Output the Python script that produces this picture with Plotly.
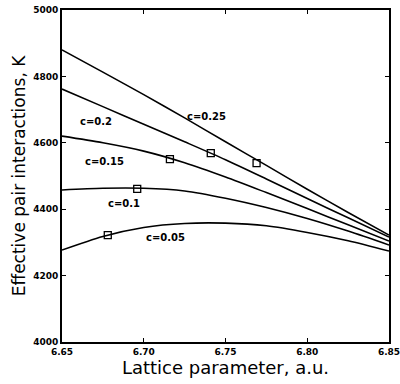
import plotly.graph_objects as go

# Lattice parameter grid (a.u.)
lattice = [6.65, 6.675, 6.70, 6.725, 6.75, 6.775, 6.80, 6.825, 6.85]

# Effective pair interaction (K) for each concentration
v_c025 = [4880, 4813, 4745, 4675, 4603, 4532, 4460, 4390, 4322]
v_c020 = [4762, 4709, 4656, 4603, 4549, 4491, 4432, 4374, 4316]
v_c015 = [4620, 4600, 4575, 4540, 4497, 4450, 4402, 4353, 4304]
v_c010 = [4458, 4463, 4463, 4455, 4433, 4405, 4372, 4334, 4292]
v_c005 = [4277, 4318, 4345, 4357, 4358, 4350, 4330, 4305, 4274]

# Marked points on each curve
mark_x = [6.769, 6.741, 6.716, 6.696, 6.678]
mark_y = [4539, 4569, 4551, 4461, 4322]

# Curve labels and their positions
label_text = ["c=0.25", "c=0.2", "c=0.15", "c=0.1", "c=0.05"]
label_x = [6.7385, 6.671, 6.676, 6.688, 6.713]
label_y = [4680, 4664, 4545, 4417, 4316]

x_ticks = [6.65, 6.70, 6.75, 6.80, 6.85]
y_ticks = [4000, 4200, 4400, 4600, 4800, 5000]

fig = go.Figure()
for ys in [v_c025, v_c020, v_c015, v_c010, v_c005]:
    fig.add_trace(go.Scatter(
        x=lattice, y=ys, mode="lines",
        line=dict(color="black", width=1.6, shape="spline", smoothing=0.8),
        showlegend=False, hoverinfo="skip"))

fig.add_trace(go.Scatter(
    x=mark_x, y=mark_y, mode="markers",
    marker=dict(symbol="square-open", size=7, color="black",
                line=dict(width=1.3, color="black")),
    showlegend=False))

for t, lx, ly in zip(label_text, label_x, label_y):
    fig.add_annotation(x=lx, y=ly, text=t, showarrow=False,
                       font=dict(family="DejaVu Sans", size=10, color="black",
                                 weight="bold"))

axis_common = dict(
    showline=True, linecolor="black", linewidth=2, mirror="allticks",
    ticks="inside", ticklen=4, tickwidth=1.2, tickcolor="black",
    showgrid=False, zeroline=False, automargin=False,
    ticklabeloverflow="allow",
    tickfont=dict(family="DejaVu Sans", size=9, color="black", weight="bold"),
)

fig.update_xaxes(range=[6.65, 6.85], tickvals=x_ticks,
                 ticktext=[f"{v:.2f}" for v in x_ticks],
                 title=dict(text="Lattice parameter, a.u.", standoff=0,
                            font=dict(family="DejaVu Sans", size=18, color="black")),
                 **axis_common)
fig.update_yaxes(range=[4000, 5000], tickvals=y_ticks,
                 title=dict(text="Effective pair interactions, K", standoff=3,
                            font=dict(family="DejaVu Sans", size=17, color="black")),
                 **axis_common)

fig.update_layout(
    width=400, height=384,
    margin=dict(l=62, r=11, t=10, b=42),
    plot_bgcolor="white", paper_bgcolor="white",
)

fig.write_html("out.html")
